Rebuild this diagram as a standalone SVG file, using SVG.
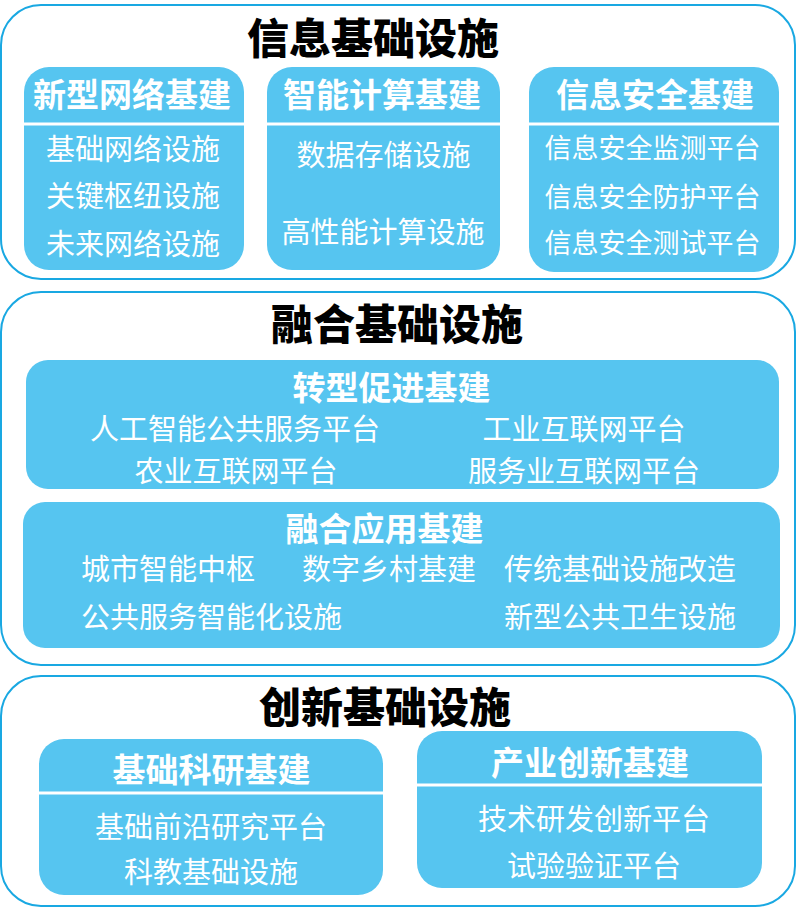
<svg xmlns="http://www.w3.org/2000/svg" width="796" height="908" viewBox="0 0 796 908">
<style>
.outer{fill:#fff;stroke:#19a8e2;stroke-width:2}
.box{fill:#56c5f0}
.div{stroke:#fff;stroke-width:3}
text{font-family:"Noto Sans CJK SC","Noto Sans CJK TC",sans-serif;fill:#fff}
.t{font-size:42px;font-weight:900;fill:#000;text-anchor:middle}
.h{font-size:33px;font-weight:700;text-anchor:middle}
.i{font-size:29px;font-weight:400;text-anchor:middle}
.i27{font-size:27px;font-weight:400;text-anchor:middle}
.s{font-size:29px;font-weight:400;text-anchor:start}
</style>
<rect width="796" height="908" fill="#fff"/>
<g id="section-info">
<rect class="outer" x="1" y="5" width="794" height="274" rx="40"/>
<text class="t" x="373" y="54">信息基础设施</text>
</g>
<g id="node-network">
<rect class="box" x="24" y="67" width="220" height="203" rx="25"/>
<line class="div" x1="24" y1="124" x2="244" y2="124"/>
<text class="h" x="132" y="107">新型网络基建</text>
<text class="i" x="133" y="159.5">基础网络设施</text>
<text class="i" x="133" y="206.5">关键枢纽设施</text>
<text class="i" x="133" y="254.5">未来网络设施</text>
</g>
<g id="node-compute">
<rect class="box" x="267" y="67" width="233" height="203" rx="25"/>
<line class="div" x1="267" y1="124" x2="500" y2="124"/>
<text class="h" x="382" y="107">智能计算基建</text>
<text class="i" x="383.5" y="165.5">数据存储设施</text>
<text class="i" x="383" y="242.5">高性能计算设施</text>
</g>
<g id="node-security">
<rect class="box" x="529" y="67" width="250" height="205" rx="25"/>
<line class="div" x1="529" y1="124" x2="779" y2="124"/>
<text class="h" x="655" y="107">信息安全基建</text>
<text class="i27" x="652.5" y="158">信息安全监测平台</text>
<text class="i27" x="652.5" y="207">信息安全防护平台</text>
<text class="i27" x="652.5" y="253">信息安全测试平台</text>
</g>
<g id="section-fusion">
<rect class="outer" x="1" y="292" width="794" height="373" rx="40"/>
<text class="t" x="397" y="340">融合基础设施</text>
</g>
<g id="node-transform">
<rect class="box" x="26" y="360" width="753" height="129" rx="22"/>
<text class="h" x="391.5" y="400">转型促进基建</text>
<text class="i" x="235" y="439.5">人工智能公共服务平台</text>
<text class="i" x="584" y="439.5">工业互联网平台</text>
<text class="i" x="236" y="481.5">农业互联网平台</text>
<text class="i" x="584" y="481.5">服务业互联网平台</text>
</g>
<g id="node-application">
<rect class="box" x="23" y="502" width="757" height="146" rx="22"/>
<text class="h" x="384.5" y="541">融合应用基建</text>
<text class="s" x="81" y="579.5">城市智能中枢</text>
<text class="s" x="302" y="579.5">数字乡村基建</text>
<text class="s" x="504" y="579.5">传统基础设施改造</text>
<text class="s" x="81" y="627.5">公共服务智能化设施</text>
<text class="s" x="504" y="627.5">新型公共卫生设施</text>
</g>
<g id="section-innovation">
<rect class="outer" x="1" y="676" width="794" height="230" rx="40"/>
<text class="t" x="385" y="723">创新基础设施</text>
</g>
<g id="node-research">
<rect class="box" x="39" y="739" width="344" height="156" rx="25"/>
<line class="div" x1="39" y1="793" x2="383" y2="793"/>
<text class="h" x="211.5" y="782">基础科研基建</text>
<text class="i" x="211" y="838">基础前沿研究平台</text>
<text class="i" x="211" y="883">科教基础设施</text>
</g>
<g id="node-industry">
<rect class="box" x="417" y="731" width="345" height="157" rx="25"/>
<line class="div" x1="417" y1="785" x2="762" y2="785"/>
<text class="h" x="590" y="774.5">产业创新基建</text>
<text class="i" x="594" y="829.5">技术研发创新平台</text>
<text class="i" x="594" y="876.5">试验验证平台</text>
</g>
<g id="connectors"></g>
</svg>
